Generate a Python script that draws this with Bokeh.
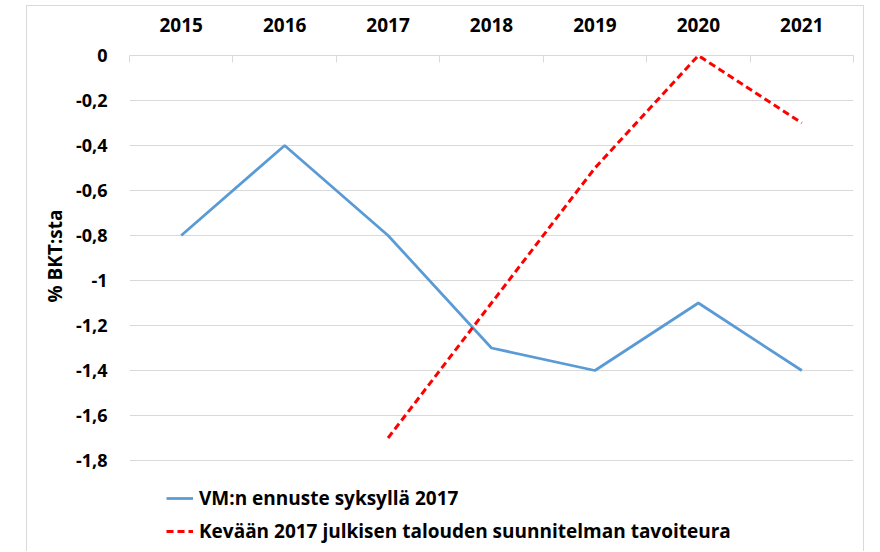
from bokeh.plotting import figure
from bokeh.models import (Range1d, FixedTicker, LinearAxis, Legend, LegendItem,
                          CustomJSTickFormatter, Title)
from bokeh.embed import file_html
from bokeh.resources import INLINE

years = [2015, 2016, 2017, 2018, 2019, 2020, 2021]
vm_forecast = [-0.8, -0.4, -0.8, -1.3, -1.4, -1.1, -1.4]
target_years = [2017, 2018, 2019, 2020, 2021]
target_path = [-1.7, -1.1, -0.5, 0.0, -0.3]
y_ticks = [-1.8, -1.6, -1.4, -1.2, -1.0, -0.8, -0.6, -0.4, -0.2, 0.0]

label_vm = "VM:n ennuste syksyllä 2017"
label_target = "Kevään 2017 julkisen talouden suunnitelman tavoiteura"
y_label = "% BKT:sta"

FONT = "Open Sans"
GRID = "#d9d9d9"

# y range extends below the last tick to leave room for the legend
p = figure(width=838, height=546, output_backend="svg", toolbar_location=None,
           x_range=Range1d(years[0] - 0.5, years[-1] + 0.5),
           y_range=Range1d(-2.2, 0.0),
           x_axis_location=None, y_axis_location=None,
           min_border_left=102, min_border_right=12,
           min_border_top=49, min_border_bottom=2,
           styles={"margin-left": "26px", "margin-top": "5px",
                   "border-left": "1px solid #d9d9d9",
                   "border-right": "1px solid #d9d9d9",
                   "border-top": "1px solid #d9d9d9"})
p.outline_line_color = None

# top category axis
boundaries = [y - 0.5 for y in years] + [years[-1] + 0.5]
xaxis = LinearAxis(ticker=FixedTicker(ticks=years, minor_ticks=boundaries))
xaxis.axis_line_color = GRID
xaxis.major_tick_in = 0
xaxis.major_tick_out = 0
xaxis.minor_tick_in = 7
xaxis.minor_tick_out = 0
xaxis.minor_tick_line_color = GRID
xaxis.major_label_text_font = FONT
xaxis.major_label_text_font_style = "bold"
xaxis.major_label_text_font_size = "19px"
xaxis.major_label_text_color = "black"
xaxis.major_label_standoff = 24
p.add_layout(xaxis, "above")

# left value axis
yaxis = LinearAxis(ticker=FixedTicker(ticks=y_ticks),
                   formatter=CustomJSTickFormatter(code="""
                       let s = tick.toFixed(1).replace('.', ',');
                       if (s.endsWith(',0')) s = s.slice(0, -2);
                       if (s === '-0') s = '0';
                       return s;"""))
yaxis.axis_line_color = None
yaxis.major_tick_line_color = None
yaxis.minor_tick_line_color = None
yaxis.major_label_text_font = FONT
yaxis.major_label_text_font_style = "bold"
yaxis.major_label_text_font_size = "18px"
yaxis.major_label_text_color = "black"
yaxis.major_label_standoff = 16
p.add_layout(yaxis, "left")

# y-axis title, placed alongside the tick span rather than the whole frame
ytitle = Title(text=y_label, align="left", offset=248, standoff=9,
               text_font=FONT, text_font_style="bold", text_font_size="19px",
               text_color="black")
p.add_layout(ytitle, "left")

p.xgrid.visible = False
p.ygrid.grid_line_color = GRID
p.ygrid.grid_line_width = 1
p.ygrid.ticker = FixedTicker(ticks=y_ticks)

r_vm = p.line(years, vm_forecast, line_color="#5B9BD5", line_width=2.75)
r_t = p.line(target_years, target_path, line_color="#FF0000", line_width=3,
             line_dash="7 4")

legend = Legend(items=[LegendItem(label=label_vm, renderers=[r_vm]),
                       LegendItem(label=label_target, renderers=[r_t])],
                location=(37, 6), orientation="vertical")
legend.border_line_color = None
legend.background_fill_alpha = 0
legend.padding = 0
legend.margin = 0
legend.spacing = 7
legend.glyph_width = 27
legend.glyph_height = 20
legend.label_height = 20
legend.label_standoff = 6
legend.label_text_font = FONT
legend.label_text_font_style = "bold"
legend.label_text_font_size = "19px"
legend.label_text_color = "black"
p.add_layout(legend, "center")

open("out.html", "w").write(file_html(p, INLINE))
